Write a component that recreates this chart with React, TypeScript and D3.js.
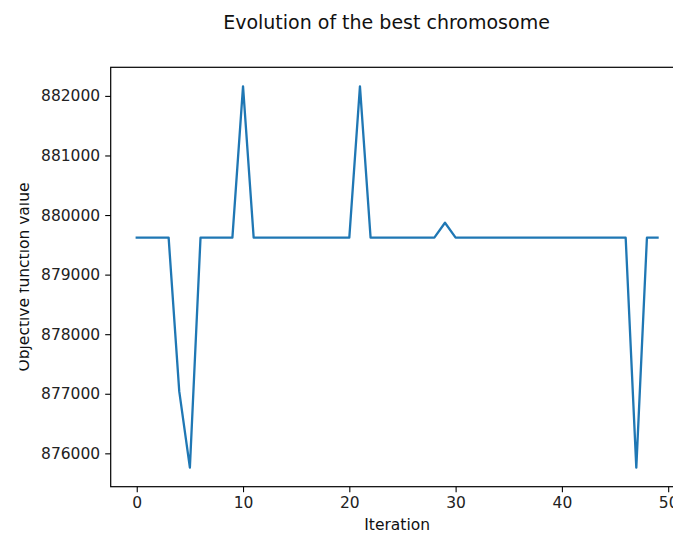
import React, { useEffect, useRef } from "react";
import * as d3 from "d3";

// best objective value per iteration
const iterations = d3.range(0, 50);
const objectiveValues = [
  879620, 879620, 879620, 879620, 877040, 875760, 879620, 879620, 879620, 879620,
  882160, 879620, 879620, 879620, 879620, 879620, 879620, 879620, 879620, 879620,
  879620, 882160, 879620, 879620, 879620, 879620, 879620, 879620, 879620, 879870,
  879620, 879620, 879620, 879620, 879620, 879620, 879620, 879620, 879620, 879620,
  879620, 879620, 879620, 879620, 879620, 879620, 879620, 875760, 879620, 879620,
];
const xTicks = [0, 10, 20, 30, 40, 50];
const yTicks = [876000, 877000, 878000, 879000, 880000, 881000, 882000];

const W = 673;
const H = 533;
const FONT = "DejaVu Sans, sans-serif";

const App = () => {
  const svgRef = useRef<SVGSVGElement>(null);

  useEffect(() => {
    const svg = d3.select(svgRef.current);
    svg.selectAll("*").remove();

    const left = 110.7;
    const right = 683.6; // right spine falls just outside the crop
    const top = 67.3;
    const bottom = 486.7;

    // matplotlib-style 5% margins
    const xPad = (d3.max(iterations)! - d3.min(iterations)!) * 0.05;
    const x = d3
      .scaleLinear()
      .domain([d3.min(iterations)! - xPad, d3.max(iterations)! + xPad])
      .range([left, right]);
    const [yMin, yMax] = d3.extent(objectiveValues) as [number, number];
    const yPad = (yMax - yMin) * 0.05;
    const y = d3
      .scaleLinear()
      .domain([yMin - yPad, yMax + yPad])
      .range([bottom, top]);

    const line = d3
      .line<number>()
      .x((d, i) => x(iterations[i]))
      .y((d) => y(d));

    svg
      .append("path")
      .datum(objectiveValues)
      .attr("d", line)
      .attr("fill", "none")
      .attr("stroke", "#1f77b4")
      .attr("stroke-width", 2.3)
      .attr("stroke-linejoin", "round")
      .attr("stroke-linecap", "square");

    const xAxis = d3
      .axisBottom(x)
      .tickValues(xTicks)
      .tickSizeInner(5.5)
      .tickSizeOuter(0)
      .tickPadding(4.5)
      .tickFormat(d3.format("d"));
    const yAxis = d3
      .axisLeft(y)
      .tickValues(yTicks)
      .tickSizeInner(5.5)
      .tickSizeOuter(0)
      .tickPadding(5)
      .tickFormat(d3.format("d"));

    const gx = svg
      .append("g")
      .attr("transform", `translate(0,${bottom})`)
      .call(xAxis);
    const gy = svg
      .append("g")
      .attr("transform", `translate(${left},0)`)
      .call(yAxis);

    [gx, gy].forEach((g) => {
      g.select(".domain").remove();
      g.selectAll("line").attr("stroke", "#000").attr("stroke-width", 1.1);
      g.selectAll("text")
        .attr("fill", "#222")
        .style("font-family", FONT)
        .style("font-size", "15.5px");
    });

    // spines
    svg
      .append("rect")
      .attr("x", left)
      .attr("y", top)
      .attr("width", right - left)
      .attr("height", bottom - top)
      .attr("fill", "none")
      .attr("stroke", "#000")
      .attr("stroke-width", 1.2);

    svg
      .append("text")
      .attr("x", 386.5)
      .attr("y", 28.5)
      .attr("text-anchor", "middle")
      .style("font-family", FONT)
      .style("font-size", "19px")
      .attr("fill", "#111")
      .text("Evolution of the best chromosome");

    svg
      .append("text")
      .attr("x", (left + right) / 2)
      .attr("y", 529.5)
      .attr("text-anchor", "middle")
      .style("font-family", FONT)
      .style("font-size", "15.5px")
      .attr("fill", "#111")
      .text("Iteration");

    // y label is cut off on the left in the original
    svg
      .append("clipPath")
      .attr("id", "ylab-clip")
      .append("rect")
      .attr("x", 19.5)
      .attr("y", 0)
      .attr("width", 60)
      .attr("height", H);

    svg
      .append("g")
      .attr("clip-path", "url(#ylab-clip)")
      .append("text")
      .attr("transform", `translate(28.5,${(top + bottom) / 2}) rotate(-90)`)
      .attr("text-anchor", "middle")
      .style("font-family", FONT)
      .style("font-size", "15.5px")
      .attr("fill", "#111")
      .text("Objective function value");
  }, []);

  return (
    <svg
      ref={svgRef}
      width={W}
      height={H}
      style={{ position: "absolute", left: 0, top: 0, background: "#fff" }}
    />
  );
};

export default App;
